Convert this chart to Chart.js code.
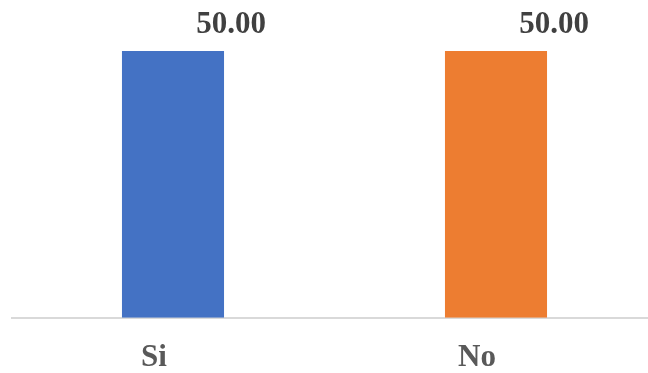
<!DOCTYPE html>
<html>
<head>
<meta charset="utf-8">
<script src="https://cdn.jsdelivr.net/npm/chart.js@4"></script>
<style>
  html, body { margin: 0; padding: 0; background: #fff; overflow: hidden; }
  #wrap { width: 648px; height: 373px; overflow: hidden; }
</style>
</head>
<body>
<div id="wrap"><canvas id="myChart" width="669" height="391"></canvas></div>
<script>
const categories = ['Si', 'No'];
const values = [50.00, 50.00];
const barColors = ['#4472C4', '#ED7D31'];

const serif = '"Liberation Serif", "Times New Roman", serif';

// etiquetas de valor encima de cada barra (desplazadas a la derecha como en el original)
const valueLabels = {
    id: 'valueLabels',
    afterDraw(chart) {
        const c = chart.ctx;
        const meta = chart.getDatasetMeta(0);
        c.save();
        c.font = 'bold 31px ' + serif;
        c.fillStyle = '#404040';
        c.textAlign = 'center';
        c.textBaseline = 'alphabetic';
        meta.data.forEach((bar, i) => {
            c.fillText(values[i].toFixed(2), bar.x + 58, bar.y - 18);
        });
        c.restore();
    }
};

const ctx = document.getElementById('myChart');
const myChart = new Chart(ctx, {
    type: 'bar',
    data: {
        labels: categories,
        datasets: [{
            data: values,
            backgroundColor: barColors,
            borderWidth: 0,
            barPercentage: 0.316,
            categoryPercentage: 1
        }]
    },
    options: {
        responsive: false,
        animation: false,
        layout: { padding: { left: 11.5, right: 11.5, top: 51, bottom: 0 } },
        plugins: { legend: { display: false }, tooltip: { enabled: false } },
        scales: {
            x: {
                grid: { display: false },
                border: { color: '#D9D9D9', width: 2 },
                ticks: {
                    color: '#595959',
                    font: { family: serif, size: 31, weight: 'bold' },
                    padding: 14,
                    labelOffset: -19
                }
            },
            y: {
                display: false,
                min: 0,
                max: 50
            }
        }
    },
    plugins: [valueLabels]
});
</script>
</body>
</html>
